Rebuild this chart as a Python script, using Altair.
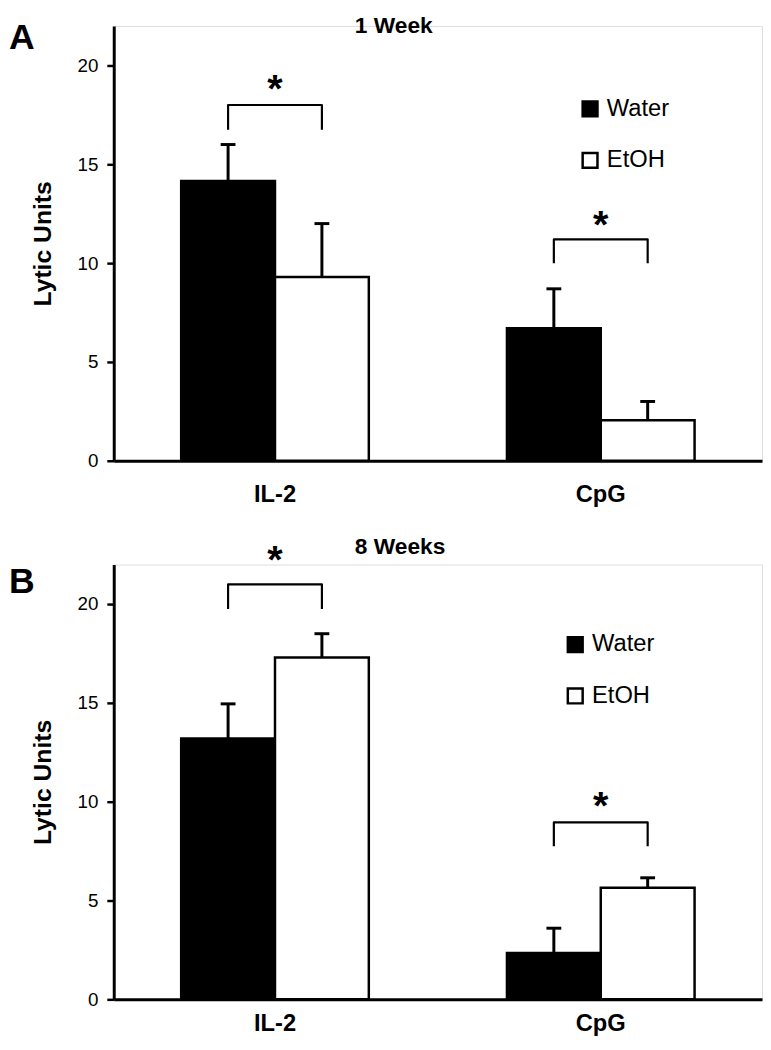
import altair as alt
import pandas as pd

treatments = ["IL-2", "CpG"]
groups = ["Water", "EtOH"]

# order: IL-2 Water, IL-2 EtOH, CpG Water, CpG EtOH
w1_mean = [14.15, 9.3, 6.7, 2.05]
w1_upper = [16.0, 12.0, 8.7, 3.0]
w8_mean = [13.2, 17.3, 2.35, 5.65]
w8_upper = [14.95, 18.5, 3.6, 6.15]

# significance brackets per treatment
w1_br_top = [18.0, 11.2]
w1_br_bottom = [16.75, 10.0]
w1_star = [19.3, 12.4]
w8_br_top = [21.0, 8.95]
w8_br_bottom = [19.75, 7.75]
w8_star = [22.7, 10.25]

panel_letters = ["A", "B"]
panel_titles = ["1 Week", "8 Weeks"]
y_ticks = [0, 5, 10, 15, 20]

FONT = "Liberation Sans"


def make_panel(means, uppers, br_top, br_bottom, stars, letter, title,
               leg_x, leg_y, title_y, letter_y, xlab_pad):
    bars_df = pd.DataFrame({
        "treatment": [t for t in treatments for g in groups],
        "group": [g for t in treatments for g in groups],
        "mean": means,
        "upper": uppers,
    })
    rows = []
    for i, t in enumerate(treatments):
        rows.append({"treatment": t, "group": "Water", "v": br_bottom[i], "o": 0})
        rows.append({"treatment": t, "group": "Water", "v": br_top[i], "o": 1})
        rows.append({"treatment": t, "group": "EtOH", "v": br_top[i], "o": 2})
        rows.append({"treatment": t, "group": "EtOH", "v": br_bottom[i], "o": 3})
    br_df = pd.DataFrame(rows)
    star_df = pd.DataFrame({"treatment": treatments, "s": stars, "lab": ["*", "*"]})
    ann_df = pd.DataFrame({"letter": [letter], "title": [title]})

    x = alt.X("treatment:N", sort=treatments,
              scale=alt.Scale(domain=treatments, paddingInner=0.424, paddingOuter=0.207),
              axis=alt.Axis(title=None, ticks=False, labelAngle=0, labelFontSize=24,
                            labelFontWeight="bold", labelPadding=xlab_pad, labelColor="black",
                            domainColor="black", domainWidth=3, labelFont=FONT))
    xo = alt.XOffset("group:N", sort=groups,
                     scale=alt.Scale(domain=groups, paddingInner=0, paddingOuter=0))
    y = alt.Y("mean:Q", scale=alt.Scale(domain=[0, 22], nice=False, zero=True),
              axis=alt.Axis(title="Lytic Units", values=y_ticks, grid=False,
                            domainColor="black", domainWidth=3, tickColor="black",
                            tickWidth=2.5, tickSize=7, labelFontSize=19, labelPadding=9,
                            labelColor="black", titleFontSize=25, titleFontWeight="bold",
                            titleColor="black", titlePadding=22, labelFont=FONT,
                            titleFont=FONT))

    bars = alt.Chart(bars_df).mark_bar(stroke="black", strokeWidth=2.5).encode(
        x=x, xOffset=xo, y=y,
        fill=alt.Fill("group:N", sort=groups,
                      scale=alt.Scale(domain=groups, range=["black", "white"]),
                      legend=alt.Legend(title=None, orient="none", legendX=leg_x,
                                        legendY=leg_y, symbolType="square",
                                        symbolSize=225, symbolStrokeColor="black",
                                        symbolStrokeWidth=2.5, labelFontSize=24,
                                        labelFont=FONT, labelColor="black",
                                        rowPadding=26, labelOffset=5)),
    )
    err = alt.Chart(bars_df).mark_rule(color="black", strokeWidth=3).encode(
        x=alt.X("treatment:N", sort=treatments), xOffset=alt.XOffset("group:N", sort=groups),
        y=alt.Y("mean:Q"), y2="upper:Q",
    )
    caps = alt.Chart(bars_df).mark_tick(color="black", thickness=3, size=15, opacity=1).encode(
        x=alt.X("treatment:N", sort=treatments), xOffset=alt.XOffset("group:N", sort=groups),
        y=alt.Y("upper:Q"),
    )
    brackets = alt.Chart(br_df).mark_line(color="black", strokeWidth=2.2,
                                          strokeJoin="round").encode(
        x=alt.X("treatment:N", sort=treatments), xOffset=alt.XOffset("group:N", sort=groups),
        y=alt.Y("v:Q"), detail="treatment:N", order="o:Q",
    )
    star_txt = alt.Chart(star_df).mark_text(fontSize=40, fontWeight="bold", font=FONT,
                                            baseline="alphabetic", dy=23,
                                            color="black").encode(
        x=alt.X("treatment:N", sort=treatments), y=alt.Y("s:Q"), text="lab:N",
    )
    letter_txt = alt.Chart(ann_df).mark_text(fontSize=36, fontWeight="bold", font=FONT,
                                             align="left", baseline="middle",
                                             color="black").encode(
        x=alt.value(-106), y=alt.value(letter_y), text="letter:N",
    )
    title_txt = alt.Chart(ann_df).mark_text(fontSize=23, fontWeight="bold", font=FONT,
                                            align="left", baseline="alphabetic",
                                            color="black").encode(
        x=alt.value(244), y=alt.value(title_y), text="title:N",
    )
    return alt.layer(bars, err, caps, brackets, star_txt, letter_txt, title_txt).properties(
        width=656, height=440)


pA = make_panel(w1_mean, w1_upper, w1_br_top, w1_br_bottom, w1_star,
                panel_letters[0], panel_titles[0], 470, 72, 7, 12, 22)
pB = make_panel(w8_mean, w8_upper, w8_br_top, w8_br_bottom, w8_star,
                panel_letters[1], panel_titles[1], 455, 69, -11, 18, 13)

chart = alt.vconcat(pA, pB, spacing=28).resolve_scale(fill="independent").properties(
    padding={"left": 0, "top": 0, "right": 0, "bottom": 0}
).configure_view(stroke=None).configure(font=FONT)

chart.save("out.html", embed_options={"renderer": "svg", "actions": False})
